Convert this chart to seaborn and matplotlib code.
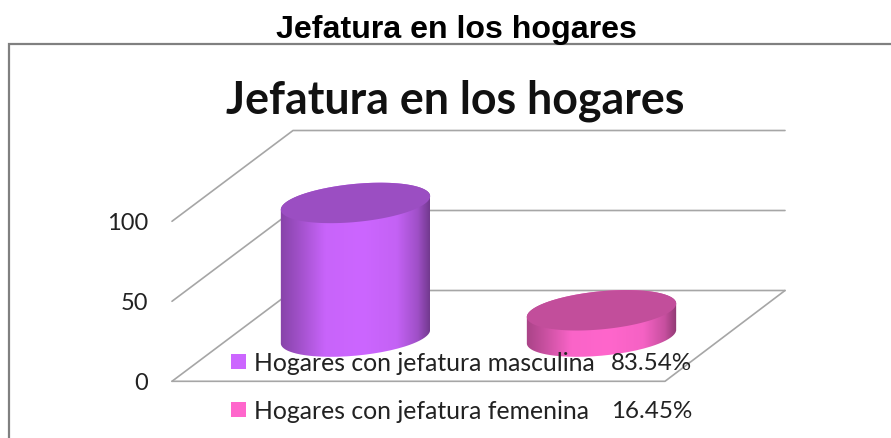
import numpy as np
import pandas as pd
import matplotlib
matplotlib.use('Agg')
import matplotlib.pyplot as plt
import seaborn as sns
from matplotlib.colors import LinearSegmentedColormap, to_rgb
from matplotlib.patches import PathPatch, Polygon, Rectangle
from matplotlib.path import Path

# Data
categorias = ['Hogares con jefatura masculina', 'Hogares con jefatura femenina']
valores = [83.54, 16.45]
etiquetas = ['83.54%', '16.45%']
colores = ['#CC66FF', '#FF66CC']
ticks = [0, 50, 100]
titulo = 'Jefatura en los hogares'

W, H = 891, 438
PX_POR_UNIDAD = 1.6      # vertical pixels for one unit of value
PX_POR_CATEGORIA = 246   # horizontal pixels between the two cylinders
X_PRIMERA = 355.5        # pixel centre of first cylinder
Y_BASE = 336.6           # pixel centre of cylinder bases
A, B = 75, 19            # ellipse semi axes in pixels
TILT = np.deg2rad(5.5)
GRIS = '#A6A6A6'
FUENTE = 'Lato'

sns.set_theme(style='white')
plt.rcParams['font.family'] = [FUENTE, 'DejaVu Sans']

fig = plt.figure(figsize=(W / 100, H / 100), dpi=100, facecolor='white')


def pixel_axes(zorder):
    a = fig.add_axes([0, 0, 1, 1], zorder=zorder)
    a.set_xlim(0, W)
    a.set_ylim(H, 0)
    a.set_axis_off()
    return a


fondo = pixel_axes(0)
ax = fig.add_axes([0, 0, 1, 1], zorder=1)
frente = pixel_axes(2)

# Outer frame and the two titles
fondo.plot([9, 9, W], [H, 44, 44], color='#808080', lw=1.6, solid_joinstyle='miter')
fondo.text(456, 30, titulo, family='Liberation Sans', fontweight='bold', fontsize=23.1,
           color='black', ha='center', va='center')
fondo.text(455.5, 101, titulo, family=FUENTE, fontweight='bold', fontsize=32.2,
           color='#111111', ha='center', va='center')

# Walls and floor of the 3D box
Y_FRENTE = 381.3
Y_FONDO = 290.5
for t in ticks:
    dy = t * PX_POR_UNIDAD
    fondo.plot([172, 293, 785], [Y_FRENTE - dy, Y_FONDO - dy, Y_FONDO - dy], color=GRIS, lw=1.2)
    fondo.text(148, Y_FRENTE - dy + 2.5, str(t), fontsize=17, color='#222222', ha='right', va='center')
fondo.plot([172, 665, 785], [Y_FRENTE, Y_FRENTE, Y_FONDO], color=GRIS, lw=1.2)

# Bars give the geometry of the cylinders
df = pd.DataFrame({'categoria': categorias, 'valor': valores})
sns.barplot(data=df, x='categoria', y='valor', hue='categoria', palette=colores,
            width=A * 2 / PX_POR_CATEGORIA, legend=False, ax=ax)


def elipse(cx, cy, t):
    dx = A * np.cos(t) * np.cos(TILT) - B * np.sin(t) * np.sin(TILT)
    dy = A * np.cos(t) * np.sin(TILT) + B * np.sin(t) * np.cos(TILT)
    return np.column_stack([cx + dx / PX_POR_CATEGORIA, cy + dy / PX_POR_UNIDAD])


for bar, color in zip(list(ax.patches), colores):
    cx = bar.get_x() + bar.get_width() / 2
    alto = bar.get_height()
    base = np.array(to_rgb(color))
    bar.set_visible(False)

    cmap = LinearSegmentedColormap.from_list('cil', [
        (0.00, base * 0.66), (0.12, base * 0.78), (0.30, base * 0.98), (0.55, base),
        (0.78, base * 0.96), (0.92, base * 0.78), (1.00, base * 0.56)])
    lado = np.vstack([elipse(cx, 0, np.linspace(np.pi, 2 * np.pi, 80)),
                      elipse(cx, alto, np.linspace(0, np.pi, 80))])
    clip = PathPatch(Path(lado), transform=ax.transData, fc='none', ec='none')
    ax.add_patch(clip)
    im = ax.imshow(np.linspace(0, 1, 256)[None, :], cmap=cmap, aspect='auto', zorder=3,
                   extent=(cx - A / PX_POR_CATEGORIA, cx + A / PX_POR_CATEGORIA, -20, alto + 20))
    im.set_clip_path(clip)
    ax.add_patch(Polygon(elipse(cx, alto, np.linspace(0, 2 * np.pi, 160)),
                         fc=base * 0.76, ec='none', zorder=4))

ax.set_xlim(-X_PRIMERA / PX_POR_CATEGORIA, (W - X_PRIMERA) / PX_POR_CATEGORIA)
ax.set_ylim(-(H - Y_BASE) / PX_POR_UNIDAD, Y_BASE / PX_POR_UNIDAD)
ax.set_axis_off()
ax.patch.set_alpha(0)

# Legend sits on top of the plot
for y, cat, etq, color in zip([361.5, 409.5], categorias, etiquetas, colores):
    frente.add_patch(Rectangle((231, y - 7.5), 15, 15, fc=color, ec='none'))
    frente.text(254, y + 2, cat, fontsize=17.8, color='#222222', ha='left', va='center')
    frente.text(692, y + 2, etq, fontsize=17.4, color='#222222', ha='right', va='center')

fig.savefig('out.png', dpi=100)
plt.close(fig)
